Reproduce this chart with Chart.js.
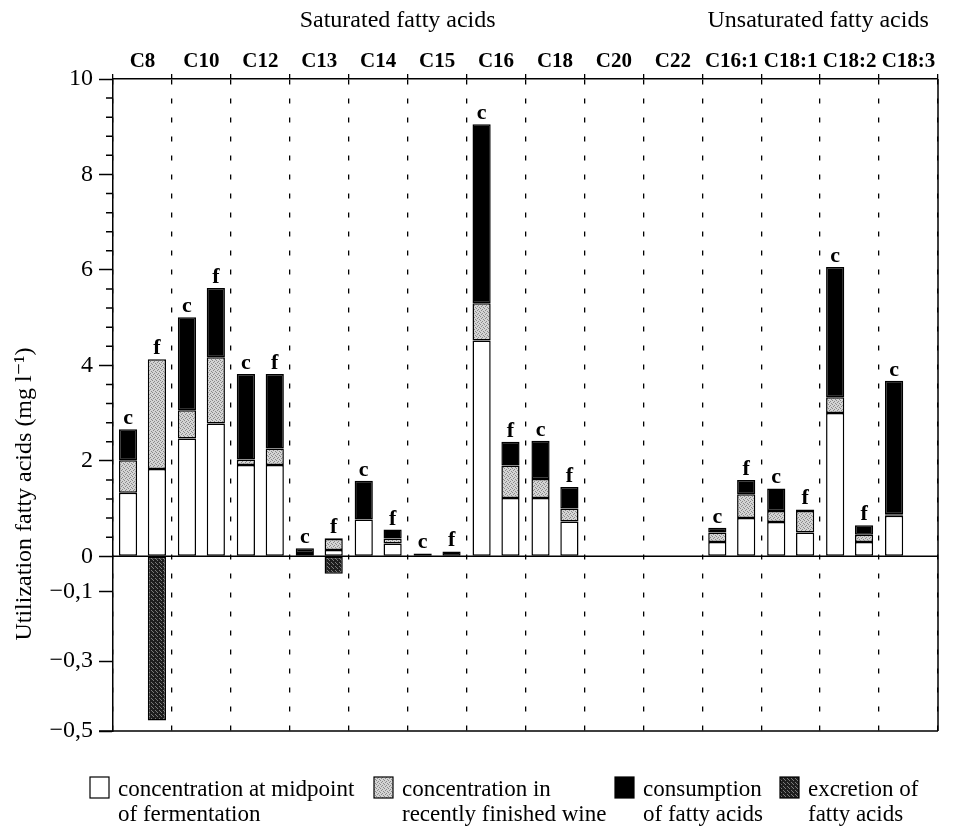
<!DOCTYPE html>
<html>
<head>
<meta charset="utf-8">
<script src="https://cdn.jsdelivr.net/npm/chart.js@4.4.1/dist/chart.umd.min.js"></script>
<style>
    body { margin: 0; background: #fff; }
    #wrap { width: 956px; height: 830px; }
</style>
</head>
<body>
<div id="wrap"><canvas id="fattyChart" width="956" height="830"></canvas></div>
<script>
// categories along the top
const categories = ['C8', 'C10', 'C12', 'C13', 'C14', 'C15', 'C16', 'C18', 'C20', 'C22', 'C16:1', 'C18:1', 'C18:2', 'C18:3'];

// c bars (segments, mg/l)
const midpointC  = [1.33, 2.47, 1.91, 0.05, 0.77, null, 4.52, 1.22, null, null, 0.30, 0.72, 3.00, 0.85];
const finishedC  = [0.68, 0.59, 0.12, 0.02, null, null, 0.78, 0.40, null, null, 0.20, 0.23, 0.33, 0.03];
const consumedC  = [0.65, 1.95, 1.79, 0.10, 0.81, 0.06, 3.75, 0.80, null, null, 0.10, 0.47, 2.73, 2.80];
const excretedC  = [null, null, null, null, null, null, null, null, null, null, null, null, null, null];

// f bars
const midpointF  = [1.83, 2.78, 1.91, 0.13, 0.27, null, 1.22, 0.73, null, null, 0.80, 0.50, 0.30, null];
const finishedF  = [2.30, 1.39, 0.35, 0.23, 0.10, null, 0.68, 0.27, null, null, 0.50, 0.45, 0.15, null];
const consumedF  = [null, 1.45, 1.56, 0.02, 0.19, 0.10, 0.50, 0.45, null, null, 0.30, 0.03, 0.20, null];
const excretedF  = [-0.47, null, null, -0.05, null, null, null, null, null, null, null, null, null, null];

// y axis ticks (broken scale: small negative part stretched)
const yTicks = [-0.5, -0.3, -0.1, 0, 2, 4, 6, 8, 10];
const yMin = -0.5;
const yMax = 10;
const yTitle = 'Utilization fatty acids (mg l\u207B\u00B9)';

const groupTitles = [
    { text: 'Saturated fatty acids', first: 0, last: 9 },
    { text: 'Unsaturated fatty acids', first: 10, last: 13 }
];
const titleNudge = [-10, -2];

const legendItems = [
    { kind: 'mid', lines: ['concentration at midpoint', 'of fermentation'] },
    { kind: 'fin', lines: ['concentration in', 'recently finished wine'] },
    { kind: 'con', lines: ['consumption', 'of fatty acids'] },
    { kind: 'exc', lines: ['excretion of', 'fatty acids'] }
];
const legendX = [90, 374, 615, 780];

const SERIF = '"Liberation Serif", "DejaVu Serif", serif';
const NEG_SHARE = 0.268;

// dotted fills
function makePattern(bg, dots, dotColor) {
    const c = document.createElement('canvas');
    c.width = 4; c.height = 4;
    const g = c.getContext('2d');
    g.fillStyle = bg;
    g.fillRect(0, 0, 4, 4);
    g.fillStyle = dotColor;
    dots.forEach(d => g.fillRect(d[0], d[1], 1, 1));
    return g.createPattern(c, 'repeat');
}
const grayFill = makePattern('#d4d4d4', [[0, 0], [2, 1], [1, 2], [3, 3]], '#8a8a8a');
const darkFill = makePattern('#1e1e1e', [[1, 0], [3, 2], [0, 3]], '#7a7a7a');
const fills = { mid: '#ffffff', fin: grayFill, con: '#000000', exc: darkFill };

// linear scale with a stretched negative part
class BrokenLinearScale extends Chart.LinearScale {
    buildTicks() {
        return yTicks.map(v => ({ value: v }));
    }
    zeroPixel() {
        return this.bottom - (this.bottom - this.top) * NEG_SHARE;
    }
    getPixelForValue(value) {
        if (value === null || value === undefined || isNaN(value)) return NaN;
        const zero = this.zeroPixel();
        if (value >= 0) return zero - (value / this.max) * (zero - this.top);
        return zero + (value / this.min) * (this.bottom - zero);
    }
    getValueForPixel(pixel) {
        const zero = this.zeroPixel();
        if (pixel <= zero) return (zero - pixel) / (zero - this.top) * this.max;
        return (pixel - zero) / (this.bottom - zero) * this.min;
    }
}
BrokenLinearScale.id = 'brokenLinear';
BrokenLinearScale.defaults = Chart.LinearScale.defaults;
Chart.register(BrokenLinearScale);

function makeDataset(data, stack, kind) {
    return {
        data: data,
        stack: stack,
        kind: kind,
        backgroundColor: fills[kind],
        borderColor: '#000',
        borderWidth: 1.5,
        borderSkipped: false,
        categoryPercentage: 0.98,
        barPercentage: 0.63
    };
}

function sumStack(arrays, i) {
    return arrays.reduce((acc, arr) => acc + (arr[i] > 0 ? arr[i] : 0), 0);
}

const barLabels = {
    id: 'barLabels',
    afterDatasetsDraw(chart) {
        const ctx = chart.ctx;
        const y = chart.scales.y;
        const stacks = [
            { name: 'c', dsIndex: 0, arrays: [midpointC, finishedC, consumedC] },
            { name: 'f', dsIndex: 4, arrays: [midpointF, finishedF, consumedF] }
        ];
        ctx.save();
        ctx.font = 'bold 22px ' + SERIF;
        ctx.fillStyle = '#000';
        ctx.textAlign = 'center';
        ctx.textBaseline = 'alphabetic';
        stacks.forEach(s => {
            const meta = chart.getDatasetMeta(s.dsIndex);
            categories.forEach((cat, i) => {
                const total = sumStack(s.arrays, i);
                if (!total) return;
                const x = meta.data[i].x;
                ctx.fillText(s.name, x, y.getPixelForValue(total) - 5);
            });
        });
        ctx.restore();
    }
};

const frame = {
    id: 'frame',
    afterDraw(chart) {
        const ctx = chart.ctx;
        const a = chart.chartArea;
        const y = chart.scales.y;
        const x = chart.scales.x;
        ctx.save();
        ctx.strokeStyle = '#000';
        ctx.lineWidth = 1.5;
        ctx.beginPath();
        ctx.moveTo(a.right, a.top);
        ctx.lineTo(a.right, a.bottom);
        ctx.moveTo(a.left - 14, a.bottom);
        ctx.lineTo(a.right, a.bottom);
        const z = y.getPixelForValue(0);
        ctx.moveTo(a.left, z);
        ctx.lineTo(a.right, z);
        // minor ticks on the positive part
        for (let k = 1; k < 25; k++) {
            if (k % 5 === 0) continue;
            const py = y.getPixelForValue(k * 0.4);
            ctx.moveTo(a.left - 7, py);
            ctx.lineTo(a.left, py);
        }
        ctx.stroke();

        ctx.fillStyle = '#000';

        // y axis title
        ctx.save();
        ctx.font = '24px ' + SERIF;
        ctx.textAlign = 'center';
        ctx.textBaseline = 'middle';
        ctx.translate(25, 494);
        ctx.rotate(-Math.PI / 2);
        ctx.fillText(yTitle, 0, 0);
        ctx.restore();

        // group titles
        ctx.font = '24px ' + SERIF;
        ctx.textAlign = 'center';
        ctx.textBaseline = 'middle';
        const half = (x.getPixelForValue(1) - x.getPixelForValue(0)) / 2;
        groupTitles.forEach((g, gi) => {
            const cx = (x.getPixelForValue(g.first) - half + x.getPixelForValue(g.last) + half) / 2;
            ctx.fillText(g.text, cx + titleNudge[gi], 21);
        });

        // legend
        ctx.textAlign = 'left';
        ctx.textBaseline = 'middle';
        ctx.font = '23px ' + SERIF;
        legendItems.forEach((item, li) => {
            const lx = legendX[li];
            ctx.fillStyle = fills[item.kind];
            ctx.fillRect(lx, 777, 19, 21);
            ctx.lineWidth = 1.2;
            ctx.strokeRect(lx, 777, 19, 21);
            ctx.fillStyle = '#000';
            item.lines.forEach((line, j) => {
                ctx.fillText(line, lx + 28, 790 + j * 25);
            });
        });
        ctx.restore();
    }
};

const datasets = [
    makeDataset(midpointC, 'c', 'mid'),
    makeDataset(finishedC, 'c', 'fin'),
    makeDataset(consumedC, 'c', 'con'),
    makeDataset(excretedC, 'c', 'exc'),
    makeDataset(midpointF, 'f', 'mid'),
    makeDataset(finishedF, 'f', 'fin'),
    makeDataset(consumedF, 'f', 'con'),
    makeDataset(excretedF, 'f', 'exc')
];

new Chart(document.getElementById('fattyChart'), {
    type: 'bar',
    data: { labels: categories, datasets: datasets },
    options: {
        responsive: false,
        animation: false,
        devicePixelRatio: 1,
        layout: { padding: { left: 8, right: 18, top: 0, bottom: 99 } },
        plugins: { legend: { display: false }, tooltip: { enabled: false } },
        scales: {
            x: {
                position: 'top',
                stacked: true,
                afterFit: scale => { scale.height = 79; },
                grid: {
                    offset: true,
                    drawOnChartArea: true,
                    color: '#000',
                    lineWidth: 1.3,
                    tickLength: 5,
                    tickColor: '#000'
                },
                border: { display: true, color: '#000', width: 1.5, dash: [5, 14] },
                ticks: {
                    color: '#000',
                    padding: 0,
                    font: { family: SERIF, size: 21, weight: 'bold' },
                    maxRotation: 0,
                    autoSkip: false
                }
            },
            y: {
                type: 'brokenLinear',
                stacked: true,
                min: yMin,
                max: yMax,
                afterFit: scale => { scale.width = 105; },
                grid: {
                    drawOnChartArea: false,
                    tickLength: 14,
                    tickColor: '#000',
                    tickWidth: 1.5
                },
                border: { display: true, color: '#000', width: 1.5 },
                ticks: {
                    color: '#000',
                    padding: 6,
                    autoSkip: false,
                    font: { family: SERIF, size: 24 },
                    callback: v => (v < 0 ? '\u2212' : '') + String(Math.abs(v)).replace('.', ',')
                },
                title: { display: false }
            }
        }
    },
    plugins: [barLabels, frame]
});
</script>
</body>
</html>
